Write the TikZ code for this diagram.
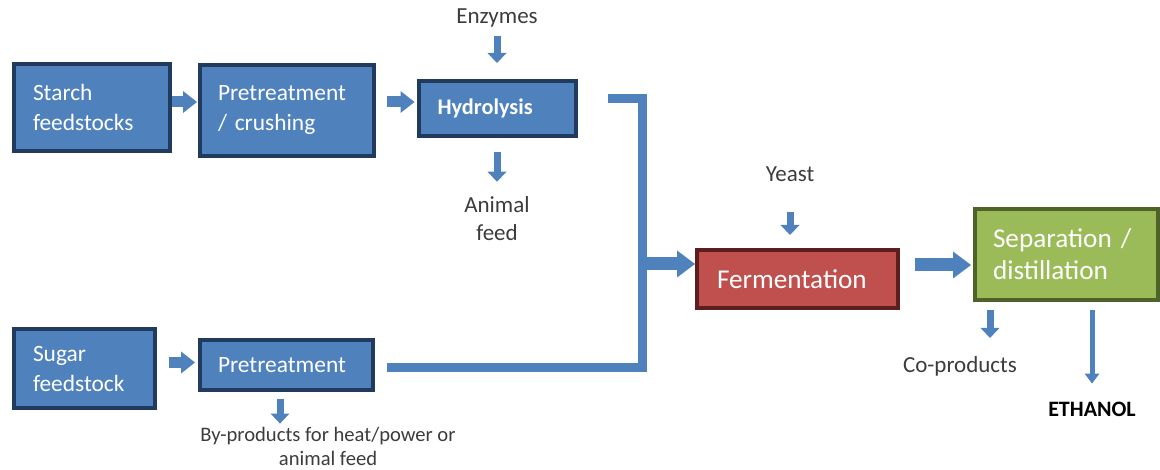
\documentclass[tikz,border=0pt]{standalone}
\usepackage{fontspec}
\setmainfont{Carlito}
\usetikzlibrary{arrows.meta}
\definecolor{boxblue}{HTML}{4F81BD}
\definecolor{boxline}{HTML}{213B5E}
\definecolor{fermred}{HTML}{C0504D}
\definecolor{fermline}{HTML}{5C1F1D}
\definecolor{sepgreen}{HTML}{9BBB59}
\definecolor{sepline}{HTML}{4F6228}
\definecolor{labelgray}{HTML}{3C3C3C}
\begin{document}
\begin{tikzpicture}[x=1pt,y=-1pt,
  box/.style={draw=boxline, fill=boxblue, line width=4pt, text=white, align=left,
    inner sep=0pt, font=\fontsize{23.4}{30}\selectfont},
  bigbox/.style={box, font=\fontsize{27.2}{32}\selectfont},
  lbl/.style={text=labelgray, inner sep=0pt, align=center, font=\fontsize{23}{28}\selectfont},
  pipe/.style={draw=boxblue, line width=9pt, line join=miter},
  bigarrow/.style={draw=boxblue, line width=13pt, -{Triangle[length=18pt,width=27pt,line width=0pt]}},
  medarrow/.style={draw=boxblue, line width=11pt, -{Triangle[length=14pt,width=22pt,line width=0pt]}},
  smallarrow/.style={draw=boxblue, line width=7pt, -{Triangle[length=10pt,width=19pt,line width=0pt]}},
  thinarrow/.style={draw=boxblue, line width=5pt, -{Triangle[length=10pt,width=15pt,line width=0pt]}}
]
\useasboundingbox (0,0) rectangle (1160,470);

% boxes
\node[box, minimum width=156pt, minimum height=87pt, text width=118pt] (starch) at (92,107.5) {Starch\\feedstocks};
\node[box, minimum width=174pt, minimum height=91pt, text width=138pt] (pre1) at (287,110.5) {Pretreatment\\/ crushing};
\node[box, minimum width=157pt, minimum height=55pt, text width=119pt, font=\bfseries\fontsize{22.3}{26}\selectfont] (hyd) at (497,108.5) {Hydrolysis};
\node[bigbox, draw=fermline, fill=fermred, minimum width=201pt, minimum height=58pt, text width=161pt] (ferm) at (797.5,279) {Fermentation};
\node[bigbox, draw=sepline, fill=sepgreen, minimum width=183pt, minimum height=91pt, text width=147pt] (sep) at (1066.5,254.5) {Separation /\\distillation};
\node[box, minimum width=141pt, minimum height=79pt, text width=103pt] (sugar) at (84.5,368.5) {Sugar\\feedstock};
\node[box, minimum width=173pt, minimum height=50pt, text width=137pt] (pre2) at (286.5,365) {Pretreatment};

% labels
\node[lbl] (enz) at (497,18) {Enzymes};
\node[lbl] (animal) at (497,219) {Animal\\feed};
\node[lbl] (yeast) at (790,174) {Yeast};
\node[lbl] (coprod) at (960,366) {Co-products};
\node[lbl, text=black, font=\bfseries\fontsize{22}{24}\selectfont] (ethanol) at (1092,409) {ETHANOL};
\node[lbl, font=\fontsize{20.6}{24}\selectfont] (byprod) at (328,446) {By-products for heat/power or\\animal feed};

% connectors
\draw[medarrow] ([yshift=5.5pt]starch.east) -- ([xshift=-1pt,yshift=8.5pt]pre1.west);
\draw[medarrow] ([xshift=11pt,yshift=8.5pt]pre1.east) -- ([xshift=-2pt,yshift=6.5pt]hyd.west);
\draw[smallarrow] ([yshift=-9pt]enz.south) -- ([yshift=16pt]hyd.north);
\draw[smallarrow] ([yshift=-14pt]hyd.south) -- ([yshift=15pt]animal.north);

\coordinate (junc) at (642,264);
\draw[pipe] ([xshift=30.5pt,yshift=9.5pt]hyd.east) -| (junc);
\draw[pipe] ([xshift=12pt,yshift=-3pt]pre2.east) -| (junc);
\draw[bigarrow] (junc) -- (junc -| ferm.west);

\draw[smallarrow] ([xshift=-7.5pt,yshift=36pt]ferm.north) -- ([xshift=-7.5pt,yshift=13pt]ferm.north);
\draw[bigarrow] ([xshift=15pt,yshift=14pt]ferm.east) -- ([xshift=-2pt,yshift=-10.5pt]sep.west);
\draw[smallarrow] ([xshift=-76.5pt,yshift=-8pt]sep.south) -- ([xshift=30pt,yshift=18pt]coprod.north);
\draw[thinarrow] ([xshift=25.5pt,yshift=-8pt]sep.south) -- ([yshift=18pt]ethanol.north);

\draw[medarrow] ([xshift=12pt,yshift=6pt]sugar.east) -- ([xshift=-3pt,yshift=2.5pt]pre2.west);
\draw[smallarrow] ([xshift=-6.5pt,yshift=-7pt]pre2.south) -- ([xshift=-48pt,yshift=3pt]byprod.north);
\end{tikzpicture}
\end{document}
